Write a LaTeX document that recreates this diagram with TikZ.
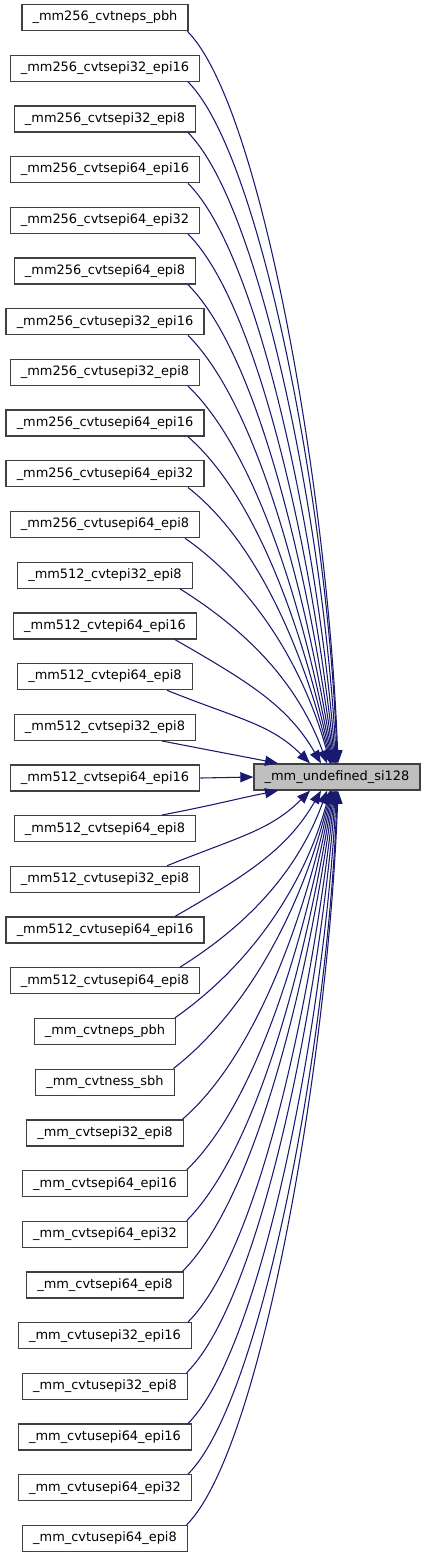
\documentclass[tikz,border=0pt]{standalone}
\usepackage{fontspec}
\setmainfont{DejaVu Sans}
\usetikzlibrary{arrows.meta,calc}

\definecolor{edgeblue}{HTML}{191970}
\definecolor{boxline}{HTML}{404040}
\definecolor{hlgray}{HTML}{BFBFBF}

\tikzset{every picture/.style={line width=0.75pt}}
\tikzset{
  fnbox/.style={draw=boxline,line width=1pt,fill=white,minimum height=19.5pt,
    inner xsep=8pt,inner ysep=0pt,font=\fontsize{9.7}{11}\selectfont},
  hlbox/.style={fnbox,fill=hlgray},
  calledge/.style={draw=edgeblue,line width=0.8pt,-{Triangle[length=9.75pt,width=7.5pt]}}
}

\begin{document}
\begin{tikzpicture}[x=0.75pt,y=0.75pt,yscale=-1,xscale=1]
\useasboundingbox (0,0) rectangle (427,1557);

% called function
\node[hlbox] (tgt) at (337,777) {\_mm\_undefined\_si128};

% caller boxes
\foreach \i/\lbl in {
  1/\_mm256\_cvtneps\_pbh, 2/\_mm256\_cvtsepi32\_epi16, 3/\_mm256\_cvtsepi32\_epi8,
  4/\_mm256\_cvtsepi64\_epi16, 5/\_mm256\_cvtsepi64\_epi32, 6/\_mm256\_cvtsepi64\_epi8,
  7/\_mm256\_cvtusepi32\_epi16, 8/\_mm256\_cvtusepi32\_epi8, 9/\_mm256\_cvtusepi64\_epi16,
  10/\_mm256\_cvtusepi64\_epi32, 11/\_mm256\_cvtusepi64\_epi8, 12/\_mm512\_cvtepi32\_epi8,
  13/\_mm512\_cvtepi64\_epi16, 14/\_mm512\_cvtepi64\_epi8, 15/\_mm512\_cvtsepi32\_epi8,
  16/\_mm512\_cvtsepi64\_epi16, 17/\_mm512\_cvtsepi64\_epi8, 18/\_mm512\_cvtusepi32\_epi8,
  19/\_mm512\_cvtusepi64\_epi16, 20/\_mm512\_cvtusepi64\_epi8, 21/\_mm\_cvtneps\_pbh,
  22/\_mm\_cvtness\_sbh, 23/\_mm\_cvtsepi32\_epi8, 24/\_mm\_cvtsepi64\_epi16,
  25/\_mm\_cvtsepi64\_epi32, 26/\_mm\_cvtsepi64\_epi8, 27/\_mm\_cvtusepi32\_epi16,
  28/\_mm\_cvtusepi32\_epi8, 29/\_mm\_cvtusepi64\_epi16, 30/\_mm\_cvtusepi64\_epi32,
  31/\_mm\_cvtusepi64\_epi8}{
  \pgfmathsetmacro{\yc}{17.5+50.7*(\i-1)}
  \node[fnbox] (b\i) at (105,\yc) {\lbl};
}

% call edges
\foreach \i in {1,...,31}{
  \pgfmathtruncatemacro{\dd}{abs(\i-16)}
  \ifnum\dd=0
    \draw[calledge] (b\i.east) -- (tgt.west);
  \else
    \path (b\i.east); \pgfgetlastxy{\rxpt}{\rypt}
    \pgfmathsetmacro{\rx}{\rxpt/0.75}
    \pgfmathtruncatemacro{\kk}{min(\dd,6)-1}
    \pgfmathsetmacro{\sxa}{{162,167,175,180,185,188}[\kk]}
    \pgfmathsetmacro{\sx}{min(\sxa,\rx-1.5)}
    \pgfmathtruncatemacro{\kt}{min(\dd,5)-1}
    \pgfmathsetmacro{\txa}{{278,310,321,327,330}[\kt]}
    \pgfmathsetmacro{\tx}{\txa+0.8*max(\dd-5,0)}
    \pgfmathsetmacro{\tha}{{11,22,30,32,35}[\kt]}
    \pgfmathsetmacro{\thA}{min(45,\tha+3*max(\dd-5,0))}
    \pgfmathsetmacro{\thb}{{11,45,60,70,75}[\kt]}
    \pgfmathsetmacro{\thB}{min(88,\thb+1.5*max(\dd-5,0))}
    \pgfmathsetmacro{\yc}{17.5+50.7*(\i-1)}
    \pgfmathsetmacro{\dx}{\tx-\sx}
    \pgfmathsetmacro{\dy}{abs(777-\yc)-27}
    \pgfmathsetmacro{\lb}{3.5*veclen(\dx/10,\dy/10)}
    \ifnum\i<16 \def\sg{1}\def\sa{south}\def\ea{north}
    \else \def\sg{-1}\def\sa{north}\def\ea{south}\fi
    \pgfmathsetmacro{\cax}{0.5*\dx}
    \pgfmathsetmacro{\cay}{\sg*0.5*\dx*tan(\thA)}
    \pgfmathsetmacro{\cbx}{-\lb*cos(\thB)}
    \pgfmathsetmacro{\cby}{-\sg*\lb*sin(\thB)}
    \pgfmathsetmacro{\sdx}{\sx-105}
    \pgfmathsetmacro{\tdx}{\tx-337}
    \draw[calledge] ($(b\i.\sa)+(\sdx,0)$) .. controls +(\cax,\cay) and +(\cbx,\cby) .. ($(tgt.\ea)+(\tdx,0)$);
  \fi
}

\end{tikzpicture}
\end{document}
